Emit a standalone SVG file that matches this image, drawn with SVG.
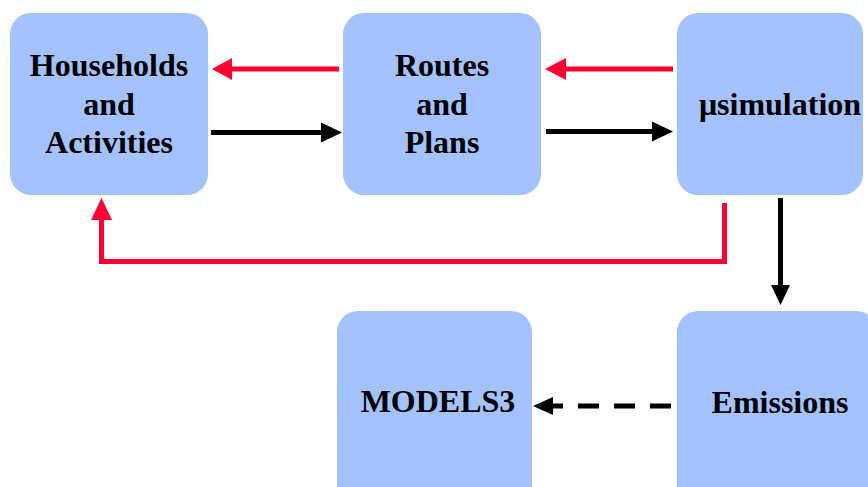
<svg xmlns="http://www.w3.org/2000/svg" width="868" height="487" viewBox="0 0 868 487">
  <style>
    .box { fill: #a4c2fe; }
    .lbl { font-family: "Liberation Serif", "Times New Roman", serif; font-weight: bold; font-size: 32px; fill: #000; text-anchor: middle; }
    .red { stroke: #ff0033; stroke-width: 5; fill: none; }
    .blk { stroke: #000; stroke-width: 5; fill: none; }
    .dash { stroke: #000; stroke-width: 5; fill: none; stroke-dasharray: 21 15; }
  </style>
  <rect width="868" height="487" fill="#fff"/>

  <g id="households">
    <rect class="box" x="10" y="13" width="198" height="182" rx="21"/>
    <text class="lbl" x="109" y="76">Households</text>
    <text class="lbl" x="109" y="115">and</text>
    <text class="lbl" x="109" y="153">Activities</text>
  </g>
  <g id="routes">
    <rect class="box" x="343" y="13" width="198" height="182" rx="21"/>
    <text class="lbl" x="442" y="76">Routes</text>
    <text class="lbl" x="442" y="115">and</text>
    <text class="lbl" x="442" y="153">Plans</text>
  </g>
  <g id="simulation">
    <rect class="box" x="677" y="13" width="186" height="182" rx="21"/>
    <text class="lbl" x="780" y="115">μsimulation</text>
  </g>
  <g id="models3">
    <rect class="box" x="337" y="311" width="195" height="200" rx="21"/>
    <text class="lbl" x="438" y="412">MODELS3</text>
  </g>
  <g id="emissions">
    <rect class="box" x="677" y="311" width="200" height="200" rx="21"/>
    <text class="lbl" x="780" y="413">Emissions</text>
  </g>

  <g id="connectors">
    <!-- feedback: Routes to Households -->
    <line class="red" x1="339" y1="69" x2="230" y2="69"/>
    <polygon fill="#ff0033" points="212,69 232,58 232,80"/>
    <!-- Households to Routes -->
    <line class="blk" x1="211" y1="132.5" x2="324" y2="132.5"/>
    <polygon fill="#000" points="342,132.5 321,122.5 321,142.5"/>
    <!-- feedback: simulation to Routes -->
    <line class="red" x1="673" y1="69" x2="564" y2="69"/>
    <polygon fill="#ff0033" points="545,69 566,58 566,80"/>
    <!-- Routes to simulation -->
    <line class="blk" x1="546" y1="131.5" x2="655" y2="131.5"/>
    <polygon fill="#000" points="673,131.5 652,121.5 652,141.5"/>
    <!-- feedback loop: simulation back to Households -->
    <polyline class="red" points="724.5,203 724.5,261.5 101.5,261.5 101.5,217"/>
    <polygon fill="#ff0033" points="101.5,198 91,220 112,220"/>
    <!-- simulation to Emissions -->
    <line class="blk" x1="780.5" y1="198" x2="780.5" y2="288"/>
    <polygon fill="#000" points="780.5,305 771,285 790,285"/>
    <!-- Emissions to MODELS3 (dashed) -->
    <line class="dash" x1="671" y1="406" x2="553" y2="406"/>
    <polygon fill="#000" points="533,406 553,397 553,415"/>
  </g>
</svg>
